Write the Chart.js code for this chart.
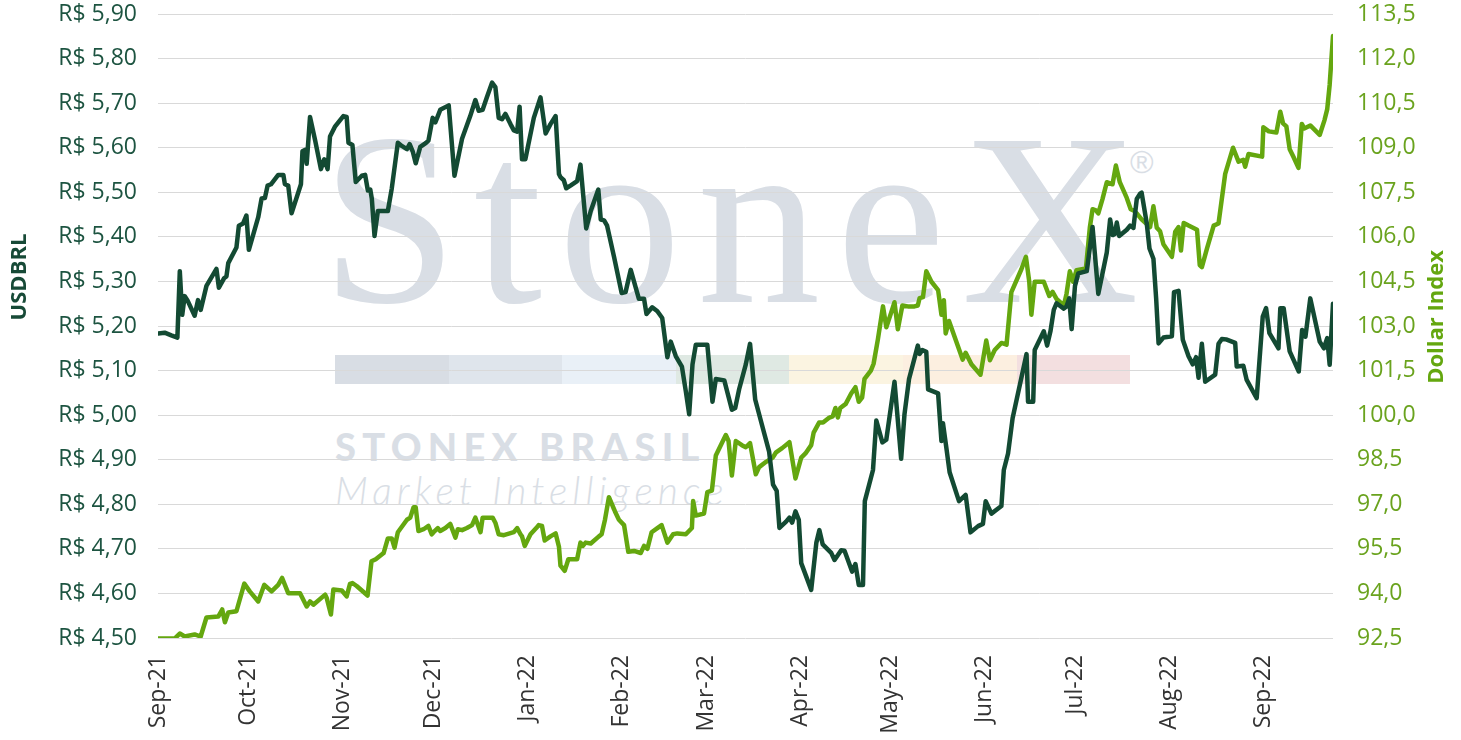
<!DOCTYPE html>
<html>
<head>
  <title>USDBRL x Dollar Index</title>
  <script src="https://cdn.jsdelivr.net/npm/chart.js"></script>
  <style>
    body { margin: 0; background: #ffffff; }
    #wrap { position: relative; width: 1461px; height: 740px; overflow: hidden; }
    #chart { position: absolute; left: 0; top: 0; }
    .wm { position: absolute; color: #d9dee5; white-space: nowrap; line-height: 1; }
    .logo { left: 321px; top: 96px; font-family: "Liberation Serif", serif; font-size: 246px; letter-spacing: 16px; }
    .reg { left: 1130px; top: 146px; font-family: "Liberation Sans", sans-serif; font-size: 32px; }
    .band { position: absolute; left: 335px; top: 355px; height: 29px; display: flex; }
    .band span { display: block; width: 113.6px; height: 29px; }
    .brasil { left: 335px; top: 427px; font-family: Lato, sans-serif; font-weight: 900; font-size: 38px; letter-spacing: 6.3px; }
    .mi { left: 335px; top: 471px; font-family: Lato, sans-serif; font-weight: 300; font-style: italic; font-size: 39px; letter-spacing: 5px; }
  </style>
</head>
<body>
  <div id="wrap">
    <div class="wm logo">StoneX</div>
    <div class="wm reg">®</div>
    <div class="band">
      <span style="background:#d8dde4"></span>
      <span style="background:#dfe5ec"></span>
      <span style="background:#e9f0f7"></span>
      <span style="background:#dfe9e3"></span>
      <span style="background:#fbf4e1"></span>
      <span style="background:#fcefe0"></span>
      <span style="background:#f3dfe0"></span>
    </div>
    <div class="wm brasil">STONEX BRASIL</div>
    <div class="wm mi">Market Intelligence</div>
    <canvas id="chart" width="1461" height="740"></canvas>
  </div>

  <script>
    // x values are days since 1 Sep 2021
    const monthDays = [0, 30, 61, 91, 122, 153, 181, 212, 242, 273, 303, 334, 365];
    const monthLabels = ["Sep-21", "Oct-21", "Nov-21", "Dec-21", "Jan-22", "Feb-22", "Mar-22",
                         "Apr-22", "May-22", "Jun-22", "Jul-22", "Aug-22", "Sep-22"];

    const brlDays = [0, 2.2, 4.4, 6.4, 7.2, 8.0, 8.8, 9.7, 12.1, 13.2, 14.1, 16.0, 19.3, 20.1, 21.8, 22.6, 23.2,
      25.9, 26.7, 28.1, 29.2, 30.0, 33.1, 34.2, 35.3, 36.2, 37.3, 39.7, 41.4, 41.9, 43.0, 44.1, 47.2, 47.7,
      48.5, 49.1, 50.2, 51.9, 53.8, 54.9, 56.0, 56.8, 58.5, 61.2, 62.3, 62.9, 64.2, 65.3, 67.3, 68.4, 69.3,
      70.1, 70.6, 71.5, 72.6, 75.9, 77.2, 79.2, 80.5, 82.2, 83.1, 84.1, 85.1, 86.6, 88.5, 89.3, 90.7, 91.6,
      92.4, 93.2, 96.0, 97.9, 100.4, 103.1, 104.8, 105.9, 107.2, 108.6, 110.3, 111.4, 112.5, 113.6, 114.7,
      116.4, 117.5, 118.6, 119.4, 120.2, 121.3, 124.1, 126.3, 128.0, 129.6, 131.3, 132.4, 132.9, 134.0,
      134.8, 136.2, 138.4, 139.5, 141.4, 142.9, 145.4, 146.2, 147.3, 148.3, 150.6, 153.1, 154.4, 156.1,
      158.8, 160.5, 161.3, 163.2, 164.9, 166.5, 168.2, 169.3, 171.0, 173.0, 174.3, 175.4, 176.5, 177.6,
      181.4, 183.1, 184.2, 187.0, 189.5, 190.6, 191.9, 194.1, 195.5, 197.2, 199.6, 201.8, 203.1, 204.3,
      205.2, 207.4, 208.5, 209.4, 210.5, 211.6, 212.4, 215.7, 217.4, 218.4, 219.5, 222.3, 223.4, 225.6,
      226.7, 229.2, 230.3, 231.4, 232.8, 233.4, 236.1, 237.2, 239.2, 240.5, 243.2, 245.4, 246.5, 248.0,
      250.9, 251.5, 252.4, 253.7, 254.3, 257.6, 258.7, 259.2, 260.3, 261.4, 264.5, 266.7, 268.3, 270.8,
      272.4, 273.3, 275.2, 278.5, 279.3, 280.7, 282.2, 286.8, 287.3, 289.0, 289.5, 292.5, 293.6, 294.7,
      295.8, 296.7, 299.1, 300.0, 300.9, 301.7, 302.8, 303.9, 306.7, 308.6, 310.5, 313.3, 314.4, 315.3,
      316.0, 316.6, 317.4, 319.9, 321.0, 322.1, 323.2, 324.3, 324.8, 326.5, 327.4, 328.7, 329.6, 330.4,
      332.0, 334.8, 335.5, 337.0, 338.4, 340.3, 341.7, 342.8, 343.6, 344.7, 345.8, 349.1, 350.2, 351.3,
      352.7, 355.7, 356.2, 358.4, 359.5, 362.8, 364.8, 365.9, 367.0, 370.0, 370.6, 371.7, 373.7, 376.7,
      377.8, 378.9, 380.5, 383.6, 385.0, 386.1, 386.9, 388.0];
    const brlValues = [5.183, 5.185, 5.179, 5.174, 5.323, 5.225, 5.267, 5.258, 5.223, 5.258, 5.236, 5.290, 5.328,
      5.286, 5.307, 5.311, 5.341, 5.376, 5.425, 5.430, 5.448, 5.371, 5.444, 5.486, 5.487, 5.515, 5.518,
      5.539, 5.539, 5.518, 5.515, 5.453, 5.518, 5.592, 5.595, 5.564, 5.669, 5.616, 5.552, 5.574, 5.552,
      5.625, 5.648, 5.671, 5.669, 5.611, 5.606, 5.523, 5.537, 5.539, 5.504, 5.506, 5.486, 5.402, 5.458,
      5.458, 5.509, 5.611, 5.604, 5.597, 5.608, 5.592, 5.565, 5.602, 5.611, 5.616, 5.667, 5.657, 5.671,
      5.685, 5.695, 5.537, 5.620, 5.671, 5.707, 5.683, 5.685, 5.713, 5.746, 5.736, 5.667, 5.664, 5.676,
      5.653, 5.639, 5.636, 5.692, 5.574, 5.574, 5.667, 5.713, 5.632, 5.653, 5.671, 5.541, 5.534, 5.527,
      5.509, 5.515, 5.525, 5.562, 5.419, 5.458, 5.506, 5.439, 5.437, 5.425, 5.355, 5.274, 5.276, 5.326,
      5.261, 5.261, 5.227, 5.242, 5.233, 5.218, 5.130, 5.165, 5.132, 5.109, 5.053, 5.002, 5.114, 5.158,
      5.158, 5.030, 5.081, 5.078, 5.012, 5.016, 5.058, 5.114, 5.160, 5.035, 4.974, 4.918, 4.844, 4.830,
      4.747, 4.761, 4.770, 4.759, 4.784, 4.765, 4.668, 4.608, 4.714, 4.742, 4.710, 4.691, 4.675, 4.697,
      4.696, 4.649, 4.666, 4.619, 4.619, 4.807, 4.877, 4.988, 4.939, 4.945, 5.075, 4.902, 5.002, 5.081,
      5.156, 5.137, 5.146, 5.142, 5.058, 5.049, 4.942, 4.982, 4.928, 4.872, 4.807, 4.821, 4.737, 4.751,
      4.756, 4.807, 4.779, 4.796, 4.877, 4.914, 4.993, 5.137, 5.030, 5.030, 5.146, 5.188, 5.156, 5.188,
      5.236, 5.251, 5.239, 5.244, 5.262, 5.193, 5.290, 5.318, 5.323, 5.422, 5.272, 5.365, 5.439, 5.404,
      5.407, 5.432, 5.402, 5.416, 5.425, 5.420, 5.485, 5.497, 5.499, 5.430, 5.374, 5.351, 5.262, 5.161,
      5.174, 5.177, 5.276, 5.279, 5.169, 5.132, 5.114, 5.130, 5.084, 5.160, 5.075, 5.091, 5.160, 5.171,
      5.170, 5.162, 5.109, 5.111, 5.079, 5.038, 5.221, 5.240, 5.184, 5.150, 5.240, 5.240, 5.143, 5.098,
      5.191, 5.176, 5.262, 5.165, 5.150, 5.173, 5.113, 5.250];

    const dxyDays = [0, 5.5, 7.2, 8.8, 12.1, 14.1, 16.0, 19.9, 21.2, 22.1, 23.2, 25.9, 28.5, 30.3, 33.1, 35.1,
      37.5, 39.7, 41.0, 43.0, 46.9, 49.1, 50.2, 51.3, 55.2, 55.7, 57.1, 57.9, 60.7, 62.3, 63.4, 64.2, 65.6,
      69.2, 70.5, 71.9, 74.5, 75.9, 77.2, 78.1, 79.2, 82.2, 83.3, 84.4, 85.1, 86.0, 87.7, 89.3, 90.4, 91.0,
      92.4, 93.2, 94.9, 96.5, 98.2, 99.0, 100.4, 102.0, 103.7, 104.8, 106.5, 107.2, 110.5, 111.4, 112.5,
      114.2, 117.5, 118.6, 119.7, 120.2, 121.1, 123.0, 124.9, 125.7, 126.8, 127.7, 129.6, 131.3, 132.4,
      132.9, 134.3, 135.5, 138.4, 139.5, 140.3, 141.2, 142.9, 145.6, 146.5, 147.6, 148.9, 150.9, 152.2,
      153.9, 155.3, 157.2, 159.4, 160.5, 161.6, 163.0, 164.9, 166.3, 168.2, 170.1, 171.5, 174.3, 176.3,
      176.7, 177.6, 180.3, 181.4, 182.9, 184.2, 186.2, 187.5, 188.4, 189.5, 190.8, 192.8, 194.1, 195.5,
      197.4, 198.5, 200.8, 203.0, 204.1, 206.1, 208.5, 210.5, 212.4, 213.8, 215.7, 216.5, 218.3, 219.6,
      221.7, 222.8, 223.7, 224.5, 225.3, 227.1, 228.9, 230.3, 231.4, 232.5, 233.3, 235.4, 236.3, 237.7,
      239.4, 240.5, 242.1, 243.2, 244.3, 245.8, 247.6, 249.8, 250.9, 251.5, 252.6, 253.7, 255.4, 257.6,
      258.7, 259.5, 260.1, 261.2, 265.7, 266.7, 268.6, 271.6, 273.5, 274.7, 276.3, 278.5, 280.2, 281.8,
      285.1, 286.6, 287.7, 288.4, 289.5, 292.5, 294.3, 295.4, 296.7, 299.1, 300.0, 301.1, 302.2, 303.3,
      306.4, 307.7, 308.6, 309.7, 310.5, 311.9, 313.3, 315.2, 316.3, 317.6, 319.9, 321.2, 322.1, 323.2,
      324.8, 327.6, 328.7, 329.8, 330.9, 332.0, 334.8, 335.9, 337.0, 337.8, 338.7, 340.3, 343.1, 344.0,
      344.7, 346.4, 348.6, 350.2, 352.4, 355.0, 356.8, 358.4, 359.0, 360.1, 364.6, 365.0, 366.8, 369.3,
      370.6, 371.5, 372.6, 373.7, 375.0, 376.6, 377.7, 378.5, 380.5, 383.6, 385.2, 386.1, 386.9, 388.0];
    const dxyValues = [92.48, 92.48, 92.65, 92.55, 92.62, 92.55, 93.19, 93.22, 93.46, 93.03, 93.36, 93.40, 94.33,
      94.07, 93.73, 94.29, 94.07, 94.29, 94.52, 94.01, 94.01, 93.56, 93.73, 93.62, 93.96, 93.85, 93.29,
      94.13, 94.10, 93.90, 94.32, 94.35, 94.25, 93.93, 95.08, 95.15, 95.36, 95.85, 95.85, 95.54, 96.06,
      96.48, 96.55, 96.90, 96.90, 96.10, 96.16, 96.27, 95.99, 96.06, 96.20, 96.10, 96.20, 96.34, 95.88,
      96.16, 96.13, 96.20, 96.30, 96.55, 96.06, 96.55, 96.55, 96.38, 95.99, 95.96, 96.06, 96.20, 95.99,
      95.92, 95.60, 95.99, 96.20, 96.30, 96.27, 95.78, 95.92, 96.02, 95.57, 94.94, 94.76, 95.15, 95.15,
      95.71, 95.60, 95.71, 95.68, 95.92, 95.99, 96.48, 97.24, 96.76, 96.48, 96.30, 95.40, 95.43, 95.36,
      95.60, 95.50, 96.06, 96.20, 96.30, 95.71, 95.99, 96.02, 95.99, 96.20, 97.11, 96.62, 96.69, 97.41,
      97.46, 98.64, 99.06, 99.33, 99.13, 97.97, 99.13, 98.99, 98.92, 99.06, 98.01, 98.25, 98.43, 98.57,
      98.75, 98.89, 99.09, 97.87, 98.57, 98.71, 98.99, 99.41, 99.75, 99.75, 99.92, 99.96, 100.24, 99.92,
      100.24, 100.38, 100.73, 100.94, 100.45, 100.59, 101.22, 101.50, 101.73, 102.54, 103.66, 102.96,
      103.45, 103.80, 102.89, 103.69, 103.66, 103.66, 103.69, 103.94, 103.97, 104.84, 104.49, 104.21,
      103.38, 103.87, 102.75, 103.17, 101.87, 102.10, 101.71, 101.36, 102.51, 101.85, 102.19, 102.43,
      102.37, 104.14, 104.91, 105.33, 104.49, 103.38, 104.49, 104.49, 104.01, 104.15, 103.91, 103.69,
      104.08, 104.84, 104.49, 104.88, 104.94, 106.31, 106.93, 106.89, 106.79, 107.28, 107.84, 107.77,
      108.40, 107.84, 107.31, 106.93, 106.89, 106.79, 106.59, 106.33, 107.03, 106.31, 106.19, 105.75,
      105.33, 106.17, 106.33, 105.54, 106.47, 106.38, 106.24, 105.05, 104.98, 105.61, 106.38, 106.45,
      108.12, 109.00, 108.53, 108.59, 108.36, 108.79, 108.70, 109.69, 109.55, 109.51, 110.21, 109.82,
      109.72, 108.95, 108.68, 108.32, 109.80, 109.65, 109.75, 109.43, 109.93, 110.30, 111.12, 112.76];

    const darkGreen = "#134a33";
    const limeGreen = "#64a70f";
    const tickFont = { family: "'Open Sans', sans-serif", size: 23 };

    // titles of both value axes, both read bottom to top
    const axisTitles = {
      id: "axisTitles",
      afterDraw(chart) {
        const c = chart.ctx;
        const mid = (chart.chartArea.top + chart.chartArea.bottom) / 2;
        c.save();
        c.font = "bold 22px 'Open Sans', sans-serif";
        c.textAlign = "center";
        c.textBaseline = "middle";
        c.fillStyle = "#174a37";
        c.translate(20, mid - 49);
        c.rotate(-Math.PI / 2);
        c.fillText("USDBRL", 0, 0);
        c.restore();
        c.save();
        c.font = "bold 22px 'Open Sans', sans-serif";
        c.textAlign = "center";
        c.textBaseline = "middle";
        c.fillStyle = limeGreen;
        c.translate(chart.width - 24, mid - 9);
        c.rotate(-Math.PI / 2);
        c.fillText("Dollar Index", 0, 0);
        c.restore();
      }
    };

    function fixWidth(w) {
      return s => {
        s.width = w;
        s.paddingTop = 0;
        s.paddingBottom = 0;
      };
    }

    new Chart(document.getElementById("chart"), {
      type: "line",
      data: {
        datasets: [
          {
            label: "USDBRL",
            data: brlDays.map((d, i) => ({ x: d, y: brlValues[i] })),
            yAxisID: "y",
            borderColor: darkGreen,
            borderWidth: 4.5,
            borderJoinStyle: "round",
            borderCapStyle: "round",
            pointRadius: 0,
            tension: 0
          },
          {
            label: "Dollar Index",
            data: dxyDays.map((d, i) => ({ x: d, y: dxyValues[i] })),
            yAxisID: "y1",
            borderColor: limeGreen,
            borderWidth: 4.5,
            borderJoinStyle: "round",
            borderCapStyle: "round",
            pointRadius: 0,
            tension: 0
          }
        ]
      },
      options: {
        responsive: false,
        animation: false,
        layout: { padding: { top: 14 } },
        plugins: { legend: { display: false }, tooltip: { enabled: false } },
        scales: {
          x: {
            type: "linear",
            min: 0,
            max: 388,
            grid: { display: false, drawTicks: false },
            border: { display: false },
            afterBuildTicks: s => { s.ticks = monthDays.map(v => ({ value: v })); },
            afterFit: s => { s.height = 102; },
            ticks: {
              autoSkip: false,
              minRotation: 90,
              maxRotation: 90,
              padding: 17,
              color: "#333333",
              font: tickFont,
              callback: (v, i) => monthLabels[i]
            }
          },
          y: {
            position: "left",
            min: 4.5,
            max: 5.9,
            grid: { color: "#d9d9d9", drawTicks: false },
            border: { display: false },
            afterFit: fixWidth(158),
            ticks: {
              stepSize: 0.1,
              padding: 21,
              color: "#1d5441",
              font: tickFont,
              callback: v => "R$ " + v.toFixed(2).replace(".", ",")
            }
          },
          y1: {
            position: "right",
            min: 92.5,
            max: 113.5,
            grid: { display: false, drawTicks: false },
            border: { display: false },
            afterFit: fixWidth(128),
            ticks: {
              stepSize: 1.5,
              padding: 24,
              color: "#6aa31e",
              font: tickFont,
              callback: v => v.toFixed(1).replace(".", ",")
            }
          }
        }
      },
      plugins: [axisTitles]
    });
  </script>
</body>
</html>
